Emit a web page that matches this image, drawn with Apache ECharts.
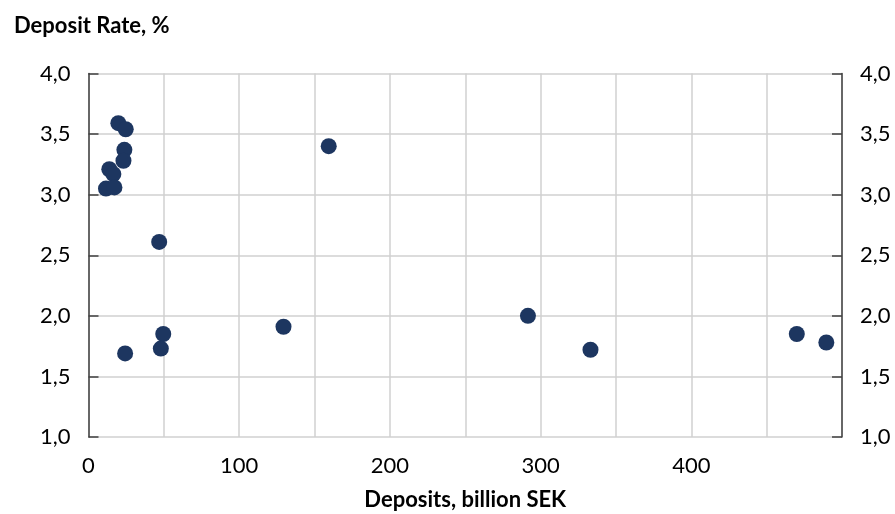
<!DOCTYPE html>
<html>
<head>
<meta charset="utf-8">
<script src="https://cdn.jsdelivr.net/npm/echarts@6/dist/echarts.min.js"></script>
<style>
  html, body { margin: 0; padding: 0; background: #fff; }
  #chart { width: 895px; height: 514px; }
</style>
</head>
<body>
<div id="chart"></div>
<script>
// deposits (billion SEK) and deposit rate (%)
var deposits = [19.8, 24.7, 23.8, 23.2, 13.8, 16.5, 11.6, 17.2, 46.9, 49.6, 48, 24.3, 129.4, 159.4, 291.6, 333.1, 470, 489.6];
var rates    = [3.59, 3.54, 3.37, 3.28, 3.21, 3.17, 3.05, 3.06, 2.61, 1.85, 1.73, 1.69, 1.91, 3.40, 2.00, 1.72, 1.85, 1.78];
var xTicks = [0, 100, 200, 300, 400];

var points = deposits.map(function (d, i) { return [d, rates[i]]; });

var font = 'Lato, "Open Sans", sans-serif';
var fmtRate = function (v) { return v.toFixed(1).replace('.', ','); };

var chart = echarts.init(document.getElementById('chart'));

var yBase = {
  type: 'value',
  min: 1,
  max: 4,
  interval: 0.5,
  axisLine: { show: true, lineStyle: { color: '#404040', width: 1.5 } },
  axisTick: { show: true, inside: true, length: 10, lineStyle: { color: '#404040', width: 1.5 } },
  axisLabel: { formatter: fmtRate, color: '#000', fontSize: 22, fontFamily: font, margin: 18 }
};

chart.setOption({
  animation: false,
  title: {
    text: 'Deposit Rate, %',
    left: 9,
    top: 10,
    textStyle: { fontSize: 22, fontWeight: 'bold', color: '#000', fontFamily: font }
  },
  grid: { left: 88.5, right: 53, top: 73.5, bottom: 77, outerBoundsMode: 'none' },
  xAxis: {
    type: 'value',
    min: 0,
    max: 500,
    interval: 50,
    name: 'Deposits, billion SEK',
    nameLocation: 'middle',
    nameGap: 52,
    nameTextStyle: { fontSize: 22, fontWeight: 'bold', color: '#000', fontFamily: font },
    axisLine: { show: false },
    axisTick: { show: false },
    splitLine: { show: true, lineStyle: { color: '#d0d0d0', width: 1.5 } },
    axisLabel: {
      color: '#000', fontSize: 22, fontFamily: font, margin: 18,
      formatter: function (v) { return xTicks.indexOf(v) >= 0 ? String(v) : ''; }
    }
  },
  yAxis: [
    Object.assign({}, yBase, {
      position: 'left',
      splitLine: { show: true, lineStyle: { color: '#d0d0d0', width: 1.5 } }
    }),
    Object.assign({}, yBase, {
      position: 'right',
      splitLine: { show: false }
    })
  ],
  series: [{
    type: 'scatter',
    data: points,
    symbolSize: 16,
    itemStyle: { color: '#1d3660', opacity: 1 }
  }]
});
</script>
</body>
</html>
